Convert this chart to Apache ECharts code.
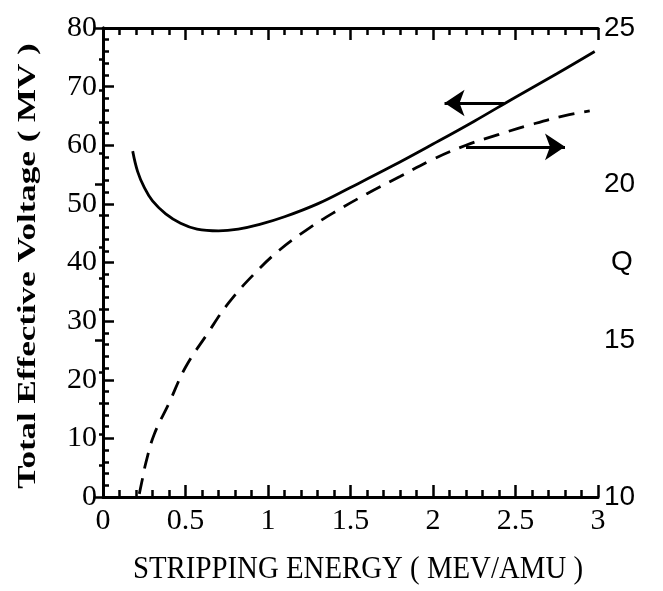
<!DOCTYPE html>
<html style="height: 100%">
<head>
  <meta charset="utf-8">
  <title>Stripping energy</title>
  <style type="text/css">
    body { margin: 0; background: #fff; }
    #container { width: 663px; height: 591px; }
  </style>
</head>
<body>
  <div id="container"></div>
  <script type="text/javascript" src="https://cdn.jsdelivr.net/npm/echarts@6/dist/echarts.min.js"></script>
  <script type="text/javascript">
    // total effective voltage (MV) vs stripping energy (MeV/amu)
    var voltageCurve = [
      [0.18, 59.0], [0.21, 55.5], [0.25, 52.8], [0.30, 50.5], [0.38, 48.3],
      [0.47, 46.7], [0.57, 45.7], [0.70, 45.4], [0.82, 45.7], [0.95, 46.5],
      [1.10, 47.8], [1.30, 50.0], [1.50, 52.8], [1.75, 56.4], [2.00, 60.2],
      [2.25, 64.1], [2.50, 68.2], [2.75, 72.2], [2.98, 76.0]
    ];
    // charge state Q vs stripping energy
    var chargeCurve = [
      [0.22, 10.1], [0.24, 10.6], [0.26, 11.1], [0.31, 12.0], [0.40, 13.0],
      [0.50, 14.15], [0.63, 15.2], [0.76, 16.2], [0.91, 17.1], [1.07, 17.9],
      [1.25, 18.6], [1.40, 19.1], [1.60, 19.7], [1.80, 20.25], [2.00, 20.8],
      [2.20, 21.25], [2.40, 21.6], [2.60, 21.92], [2.80, 22.2], [2.95, 22.35]
    ];
    // arrows pointing at the axis each curve belongs to
    var leftArrow = [[2.43, 67.2], [2.07, 67.2]];
    var rightArrow = [[2.20, 21.2], [2.80, 21.2]];

    var xTitle = 'STRIPPING ENERGY ( MEV/AMU )';
    var yTitle = 'Total Effective Voltage ( MV )';
    var qTitle = 'Q';

    var serif = '"Liberation Serif", "DejaVu Serif", serif';
    var sans = '"Liberation Sans", Arial, sans-serif';
    var axisLine = { show: true, lineStyle: { color: '#000', width: 3 } };
    var tickStyle = { color: '#000', width: 2.5 };

    var chart = echarts.init(document.getElementById('container'));
    chart.setOption({
      backgroundColor: '#fff',
      animation: false,
      grid: { left: 103, right: 65, top: 28, bottom: 94 },
      xAxis: [{
        type: 'value', min: 0, max: 3, interval: 0.5,
        axisLine: axisLine,
        axisTick: { inside: true, length: 12, lineStyle: tickStyle },
        minorTick: { show: true, splitNumber: 5, length: 7, lineStyle: tickStyle },
        axisLabel: { fontFamily: serif, fontSize: 30, color: '#000', margin: 9 },
        splitLine: { show: false }
      }, {
        type: 'value', min: 0, max: 3, interval: 0.5, position: 'top',
        axisLine: axisLine,
        axisTick: { inside: true, length: 12, lineStyle: tickStyle },
        minorTick: { show: true, splitNumber: 5, length: 7, lineStyle: tickStyle },
        axisLabel: { show: false },
        splitLine: { show: false }
      }],
      yAxis: [{
        type: 'value', min: 0, max: 80, interval: 10,
        axisLine: axisLine,
        axisTick: { inside: true, length: 11, lineStyle: tickStyle },
        minorTick: { show: true, splitNumber: 5, length: 6, lineStyle: tickStyle },
        axisLabel: { fontFamily: serif, fontSize: 30, color: '#000', margin: 6 },
        splitLine: { show: false }
      }, {
        type: 'value', min: 10, max: 25, interval: 5, position: 'right',
        axisLine: axisLine,
        axisTick: { inside: true, length: 8, lineStyle: tickStyle },
        minorTick: { show: true, splitNumber: 5, length: 4, lineStyle: tickStyle },
        axisLabel: { fontFamily: sans, fontSize: 28, color: '#000', margin: 6 },
        splitLine: { show: false }
      }],
      graphic: [{
        type: 'text', x: 358, y: 570, scaleX: 0.93,
        style: { text: xTitle, fontFamily: serif, fontSize: 31, fill: '#000', align: 'center', verticalAlign: 'middle' }
      }, {
        type: 'text', x: 29, y: 266, rotation: Math.PI / 2, scaleX: 1.4,
        style: { text: yTitle, fontFamily: serif, fontWeight: 'bold', fontSize: 25, fill: '#000', align: 'center', verticalAlign: 'middle' }
      }, {
        type: 'text', x: 622, y: 262,
        style: { text: qTitle, fontFamily: sans, fontSize: 28, fill: '#000', align: 'center', verticalAlign: 'middle' }
      }],
      series: [{
        type: 'line', xAxisIndex: 0, yAxisIndex: 0,
        data: voltageCurve, smooth: 0.4, showSymbol: false,
        lineStyle: { color: '#000', width: 2.8 },
        markLine: {
          silent: true, symbol: ['none', 'arrow'], symbolSize: 20,
          label: { show: false },
          lineStyle: { color: '#000', width: 2.8, type: 'solid' },
          data: [[{ coord: leftArrow[0] }, { coord: leftArrow[1] }]]
        }
      }, {
        type: 'line', xAxisIndex: 0, yAxisIndex: 1,
        data: chargeCurve, smooth: 0.4, showSymbol: false,
        lineStyle: { color: '#000', width: 2.8, type: [16, 10] },
        markLine: {
          silent: true, symbol: ['none', 'arrow'], symbolSize: 20,
          label: { show: false },
          lineStyle: { color: '#000', width: 2.8, type: 'solid' },
          data: [[{ coord: rightArrow[0] }, { coord: rightArrow[1] }]]
        }
      }]
    });
  </script>
</body>
</html>
